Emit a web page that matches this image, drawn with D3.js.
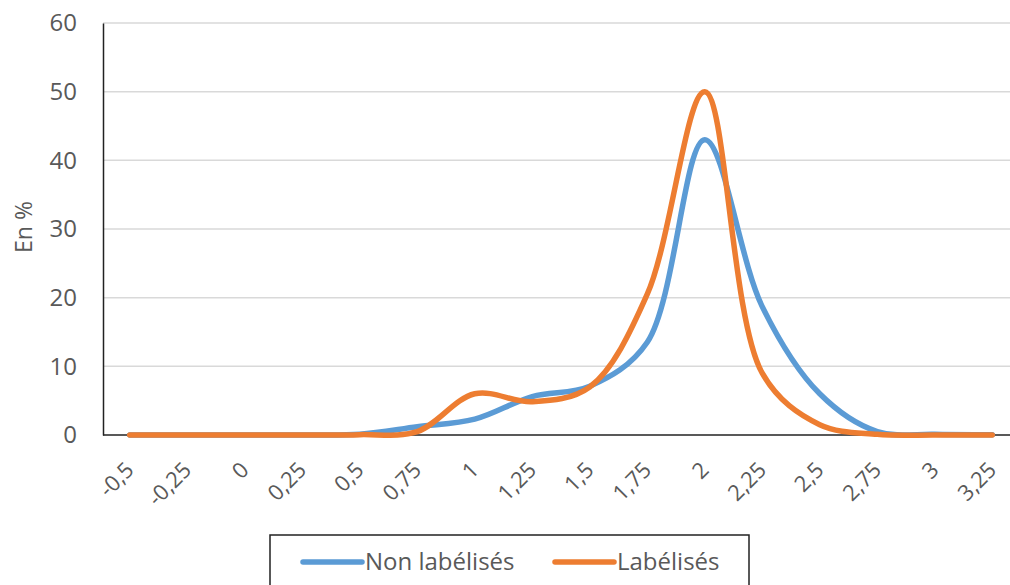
<!DOCTYPE html>
<html lang="fr">
<head>
<meta charset="UTF-8">
<title>Distribution</title>
<script src="https://d3js.org/d3.v7.min.js"></script>
<style>
    body { margin: 0; background: #fff; }
    svg text { font-family: "Open Sans", sans-serif; fill: #595959; }
</style>
</head>
<body>
<script>
    const categories = ["-0,5", "-0,25", "0", "0,25", "0,5", "0,75", "1", "1,25", "1,5", "1,75", "2", "2,25", "2,5", "2,75", "3", "3,25"]
    const nonLabelises = [0, 0, 0, 0, 0.1, 1.2, 2.3, 5.6, 7.1, 13.5, 43, 18.7, 6, 0.5, 0.1, 0.05]
    const labelises = [0, 0, 0, 0, 0.05, 0.5, 6, 4.85, 7, 20.5, 50, 9, 1.5, 0.1, 0, 0]
    const yTicks = [0, 10, 20, 30, 40, 50, 60]
    const seriesNames = ["Non labélisés", "Labélisés"]
    const colors = ["#5B9BD5", "#ED7D31"]

    const width = 1010, height = 585
    const plotLeft = 101, plotRight = 1021, plotTop = 23, plotBottom = 435

    const svg = d3.select("body").append("svg")
        .attr("width", width)
        .attr("height", height)

    const x = d3.scaleBand().domain(categories).range([plotLeft, plotRight])
    const y = d3.scaleLinear().domain([0, 60]).range([plotBottom, plotTop])
    const cx = d => x(d) + x.bandwidth() / 2

    // gridlines
    svg.append("g")
        .selectAll("line")
        .data(yTicks.filter(d => d > 0))
        .join("line")
        .attr("x1", plotLeft + 2).attr("x2", width)
        .attr("y1", d => y(d)).attr("y2", d => y(d))
        .attr("stroke", "#d9d9d9")
        .attr("stroke-width", 1.5)

    // y axis
    const yAxis = svg.append("g")
        .attr("transform", "translate(" + (plotLeft + 2) + ",0)")
        .call(d3.axisLeft(y).tickValues(yTicks).tickSize(0).tickPadding(26))
    yAxis.select(".domain").attr("stroke", "#222").attr("stroke-width", 1.5)
    yAxis.selectAll("text").style("font-size", "24px").attr("fill", "#595959")

    // x axis line at 0
    svg.append("line")
        .attr("x1", plotLeft + 2).attr("x2", width)
        .attr("y1", y(0)).attr("y2", y(0))
        .attr("stroke", "#222")
        .attr("stroke-width", 1.5)

    // x tick labels
    svg.append("g")
        .selectAll("text")
        .data(categories)
        .join("text")
        .attr("transform", d => "translate(" + cx(d) + "," + (y(0) + 31) + ") rotate(-45)")
        .attr("text-anchor", "end")
        .attr("dy", "0.35em")
        .style("font-size", "22px")
        .text(d => d)

    // y title
    svg.append("text")
        .attr("transform", "translate(32,227) rotate(-90)")
        .attr("text-anchor", "middle")
        .style("font-size", "23px")
        .text("En %")

    const line = d3.line()
        .x((d, i) => cx(categories[i]))
        .y(d => y(d))
        .curve(d3.curveCatmullRom.alpha(0.5))

    ;[nonLabelises, labelises].forEach((s, i) => {
        svg.append("path")
            .attr("d", line(s))
            .attr("fill", "none")
            .attr("stroke", colors[i])
            .attr("stroke-width", 5.5)
            .attr("stroke-linecap", "round")
            .attr("stroke-linejoin", "round")
    })

    // legend
    const legend = svg.append("g")
    legend.append("rect")
        .attr("x", 270).attr("y", 535)
        .attr("width", 479).attr("height", 70)
        .attr("fill", "#fff")
        .attr("stroke", "#222")
        .attr("stroke-width", 1.5)
    const legendX = [303, 555]
    seriesNames.forEach((name, i) => {
        legend.append("line")
            .attr("x1", legendX[i]).attr("x2", legendX[i] + 59)
            .attr("y1", 562).attr("y2", 562)
            .attr("stroke", colors[i])
            .attr("stroke-width", 5.5)
            .attr("stroke-linecap", "round")
        legend.append("text")
            .attr("x", legendX[i] + 62)
            .attr("y", 570)
            .style("font-size", "24px")
            .attr("fill", "#404040")
            .text(name)
    })
</script>
</body>
</html>
